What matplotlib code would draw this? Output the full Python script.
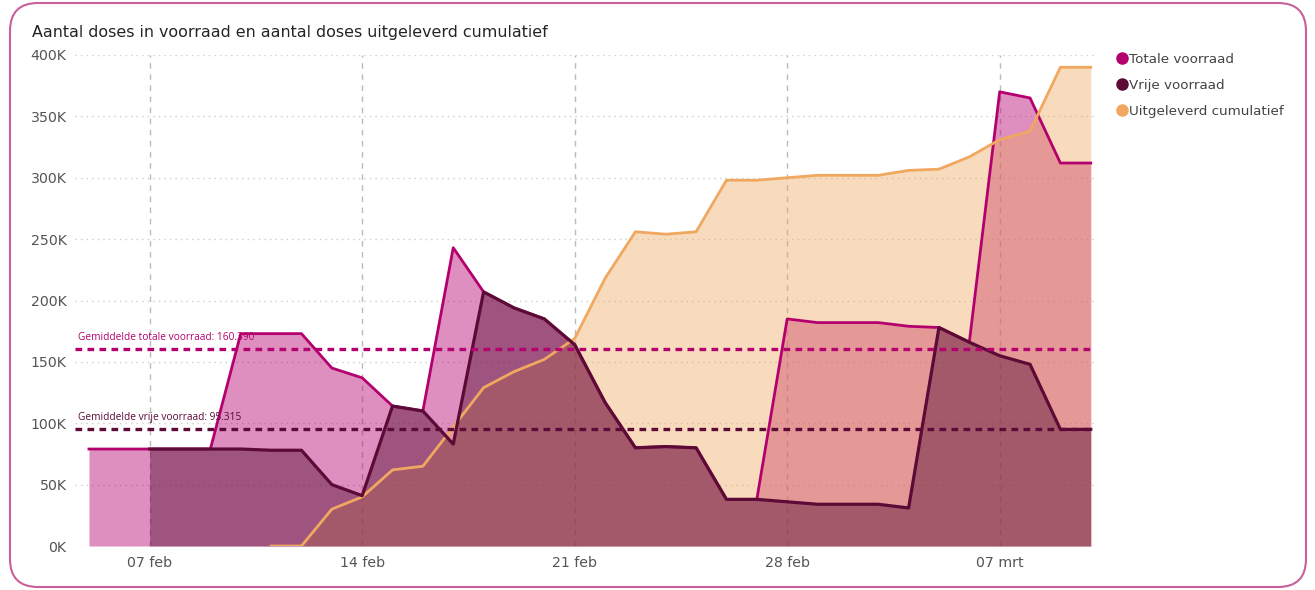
import numpy as np
import pandas as pd
import matplotlib
matplotlib.use('Agg')
import matplotlib.pyplot as plt
from matplotlib.lines import Line2D
from matplotlib.patches import FancyBboxPatch
from matplotlib.transforms import IdentityTransform

plt.rcParams['font.family'] = ['DejaVu Sans']

# daily values, 05 feb .. 10 mrt
dates = pd.date_range('2021-02-05', '2021-03-10', freq='D')
nan = np.nan
totale = [79000, 79000, 79000, 79000, 79000, 173000, 173000, 173000, 145000, 137000,
          114000, 110000, 243000, 207000, 194000, 185000, 164000, 117000, 80000, 81000,
          80000, 38000, 38000, 185000, 182000, 182000, 182000, 179000, 178000, 166000,
          370000, 365000, 312000, 312000]
vrije = [nan, nan, 79000, 79000, 79000, 79000, 78000, 78000, 50000, 41000,
         114000, 110000, 83000, 207000, 194000, 185000, 164000, 117000, 80000, 81000,
         80000, 38000, 38000, 36000, 34000, 34000, 34000, 31000, 178000, 166000,
         155000, 148000, 95000, 95000]
uitgeleverd = [nan, nan, nan, nan, nan, nan, 0, 0, 30000, 40000,
               62000, 65000, 97000, 129000, 142000, 152000, 169000, 218000, 256000, 254000,
               256000, 298000, 298000, 300000, 302000, 302000, 302000, 306000, 307000, 317000,
               331000, 338000, 390000, 390000]
gem_totaal = 160390
gem_vrij = 95315
tick_dates = ['2021-02-07', '2021-02-14', '2021-02-21', '2021-02-28', '2021-03-07']
tick_labels = ['07 feb', '14 feb', '21 feb', '28 feb', '07 mrt']

c_tot = '#B4006E'
c_vrij = '#5C0A36'
c_uit = '#F0A860'

x = matplotlib.dates.date2num(dates)
tot = np.array(totale, dtype=float)
vr = np.array(vrije, dtype=float)
uit = np.array(uitgeleverd, dtype=float)

fig = plt.figure(figsize=(13.15, 5.9), dpi=100)
ax = fig.add_axes([75/1315, 44/590, 1020/1315, 491/590])

ax.fill_between(x, 0, tot, color=c_tot, alpha=0.44, lw=0, zorder=2)
ax.fill_between(x, 0, uit, color=c_uit, alpha=0.42, lw=0, zorder=3)
ax.fill_between(x, 0, vr, color='#5A1238', alpha=0.47, lw=0, zorder=4)

ax.plot(x, tot, color=c_tot, lw=2, zorder=5)
ax.plot(x, uit, color=c_uit, lw=2, zorder=6)
ax.plot(x, vr, color=c_vrij, lw=2.3, zorder=7)

ax.axhline(gem_totaal, color=c_tot, lw=2.4, ls=(0, (2, 1.6)), zorder=8)
ax.axhline(gem_vrij, color=c_vrij, lw=2.4, ls=(0, (2, 1.6)), zorder=8)
ax.text(x[0] - 0.37, gem_totaal + 5000, 'Gemiddelde totale voorraad: 160.390',
        color=c_tot, fontsize=7.3, va='bottom', zorder=9, family='Open Sans')
ax.text(x[0] - 0.37, gem_vrij + 5000, 'Gemiddelde vrije voorraad: 95.315',
        color=c_vrij, fontsize=7.3, va='bottom', zorder=9, family='Open Sans')

ax.set_xlim(x[0] - 0.46, x[0] + 33.14)
ax.set_ylim(0, 400000)
ax.set_yticks(np.arange(0, 400001, 50000))
ax.set_yticklabels(['%dK' % (v // 1000) for v in range(0, 400001, 50000)])
ax.set_xticks(matplotlib.dates.date2num(pd.to_datetime(tick_dates)))
ax.set_xticklabels(tick_labels)
ax.tick_params(length=0, labelsize=10.2, labelcolor='#555555')
ax.tick_params(axis='y', pad=6)
ax.tick_params(axis='x', pad=7)
ax.grid(axis='y', color='#cccccc', ls=(0, (1, 3)), lw=1, zorder=1)
ax.grid(axis='x', color='#bbbbbb', ls=(0, (4, 4)), lw=1, zorder=1)
for s in ax.spines.values():
    s.set_visible(False)

fig.text(32/1315, 1 - 32/590, 'Aantal doses in voorraad en aantal doses uitgeleverd cumulatief',
         fontsize=11.4, color='#252423', va='center')

handles = [Line2D([], [], marker='o', ls='', color=c, markersize=8) for c in (c_tot, c_vrij, c_uit)]
fig.legend(handles, ['Totale voorraad', 'Vrije voorraad', 'Uitgeleverd cumulatief'],
           loc='upper left', bbox_to_anchor=(1103/1315, 1 - 41/590), frameon=False,
           fontsize=9.7, handletextpad=0.05, handlelength=1.0, labelspacing=0.95,
           labelcolor='#444444')

frame = FancyBboxPatch((10, 3), 1296, 584, boxstyle='round,pad=0,rounding_size=28',
                       transform=IdentityTransform(), fill=False, ec='#C8609A', lw=1.5)
fig.add_artist(frame)

fig.savefig('out.png', dpi=100)
